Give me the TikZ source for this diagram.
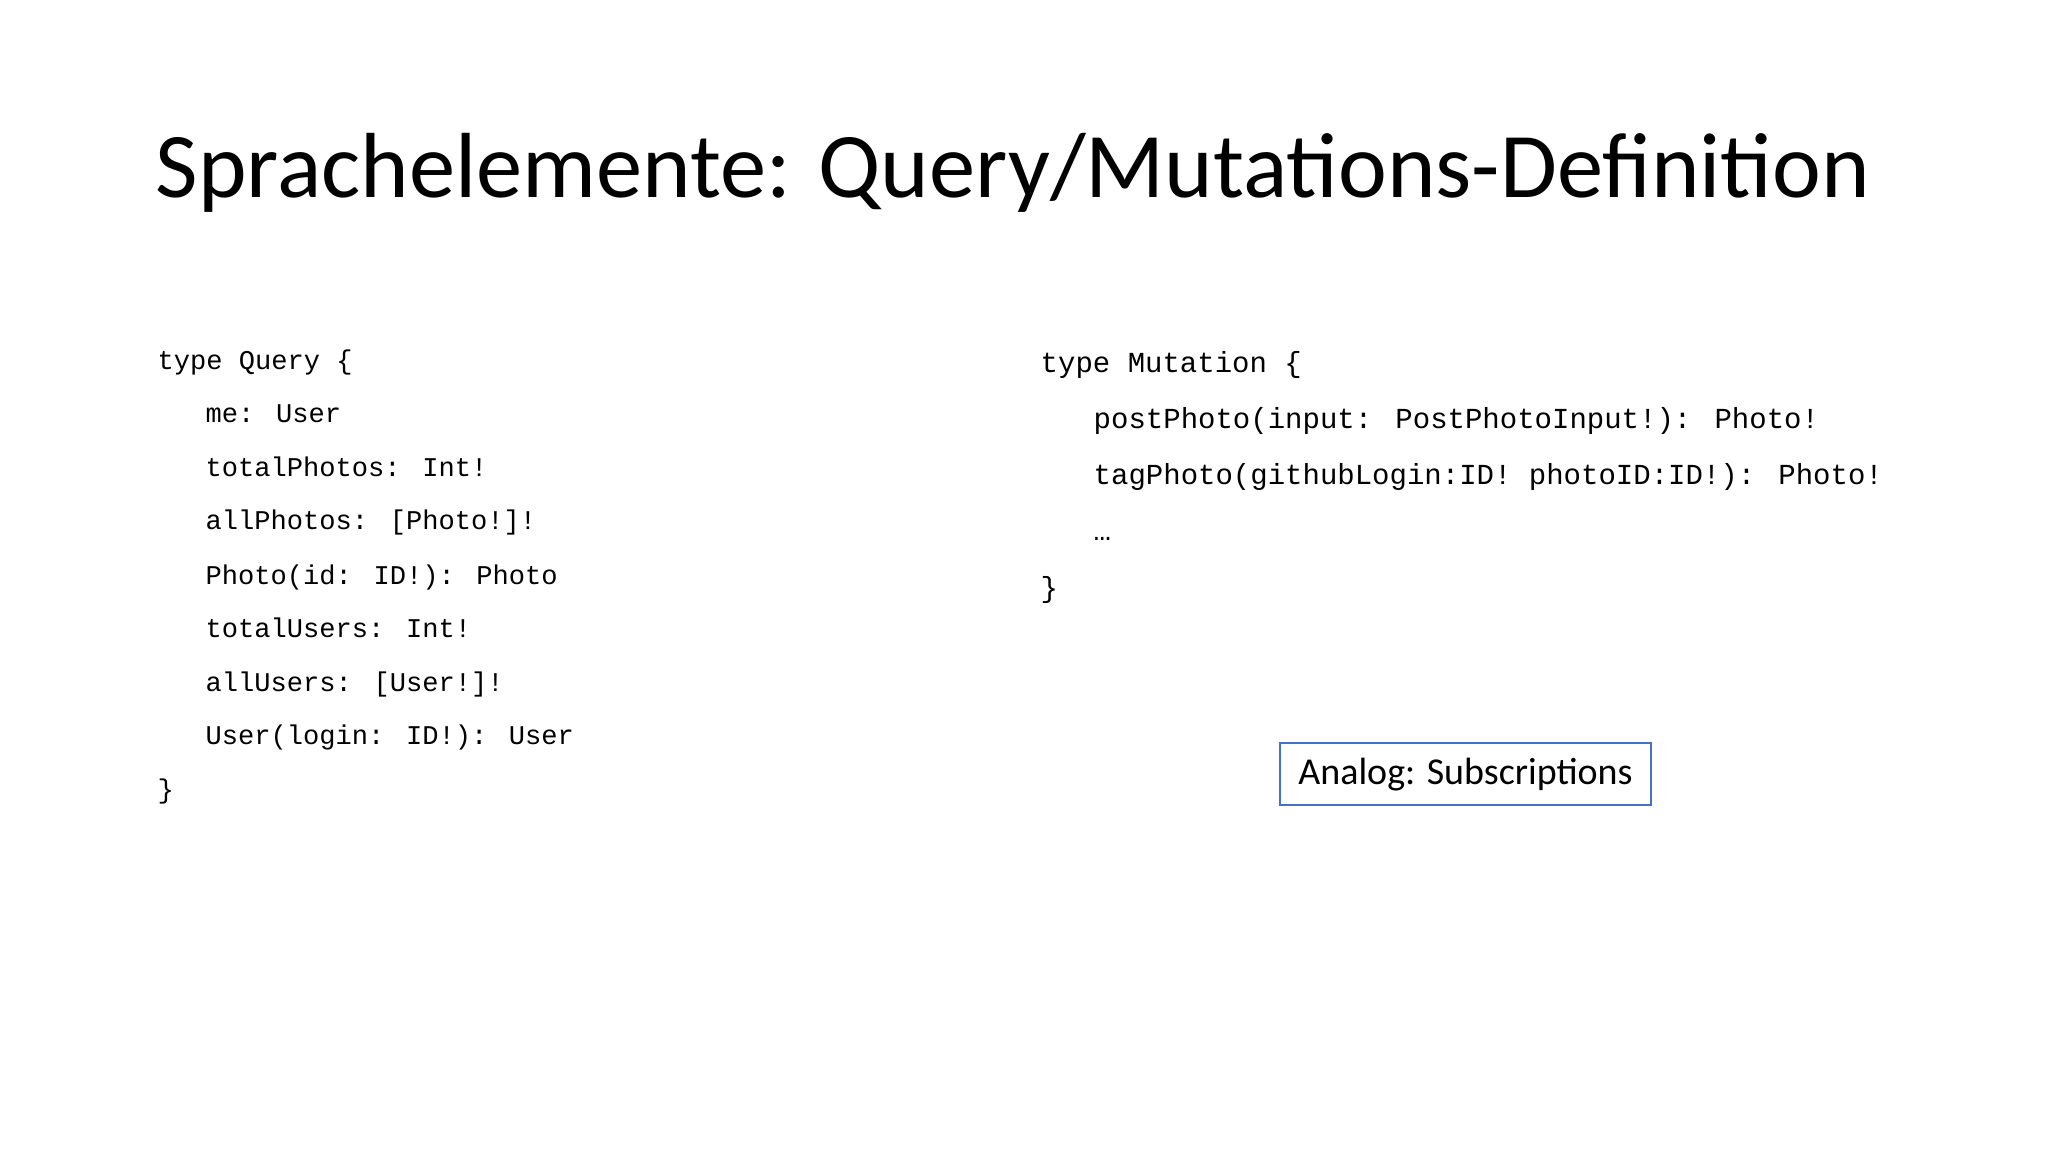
\documentclass[tikz,border=0pt]{standalone}
\usepackage{fontspec}
\setmainfont{Carlito}
\newfontfamily\codefont{Liberation Mono}
\definecolor{boxblue}{RGB}{68,114,196}
\begin{document}
\begin{tikzpicture}[x=0.01cm,y=-0.01cm,
  code/.style={anchor=base west,inner sep=0pt,font=\codefont\fontsize{7.7pt}{9pt}\selectfont},
  codeR/.style={anchor=base west,inner sep=0pt,font=\codefont\fontsize{8.25pt}{9pt}\selectfont}]
\useasboundingbox (0,0) rectangle (2048,1152);
\node[anchor=base west,inner sep=0pt,font=\fontsize{26.3pt}{32pt}\selectfont] (title) at (155,198) {Sprachelemente: Query/Mutations-Definition};
\node[code] (q0) at (157,370) {type Query \{};
\node[code] (q1) at (205,423) {me: User};
\node[code] (q2) at (205,477) {totalPhotos: Int!};
\node[code] (q3) at (205,530) {allPhotos: [Photo!]!};
\node[code] (q4) at (205,584) {Photo(id: ID!): Photo};
\node[code] (q5) at (205,637) {totalUsers: Int!};
\node[code] (q6) at (205,691) {allUsers: [User!]!};
\node[code] (q7) at (205,744) {User(login: ID!): User};
\node[code] (q8) at (157,798) {\}};
\node[codeR] (m0) at (1040,373) {type Mutation \{};
\node[codeR] (m1) at (1093,429) {postPhoto(input: PostPhotoInput!): Photo!};
\node[codeR] (m2) at (1093,485) {tagPhoto(githubLogin:ID! photoID:ID!): Photo!};
\node[codeR] (m3) at (1093,541) {…};
\node[codeR] (m4) at (1040,597) {\}};
\draw[boxblue,line width=0.8pt] (1280,743) rectangle (1651,805);
\node[font=\fontsize{10.8pt}{13pt}\selectfont] (an) at (1465.5,775) {Analog: Subscriptions};
\end{tikzpicture}
\end{document}
